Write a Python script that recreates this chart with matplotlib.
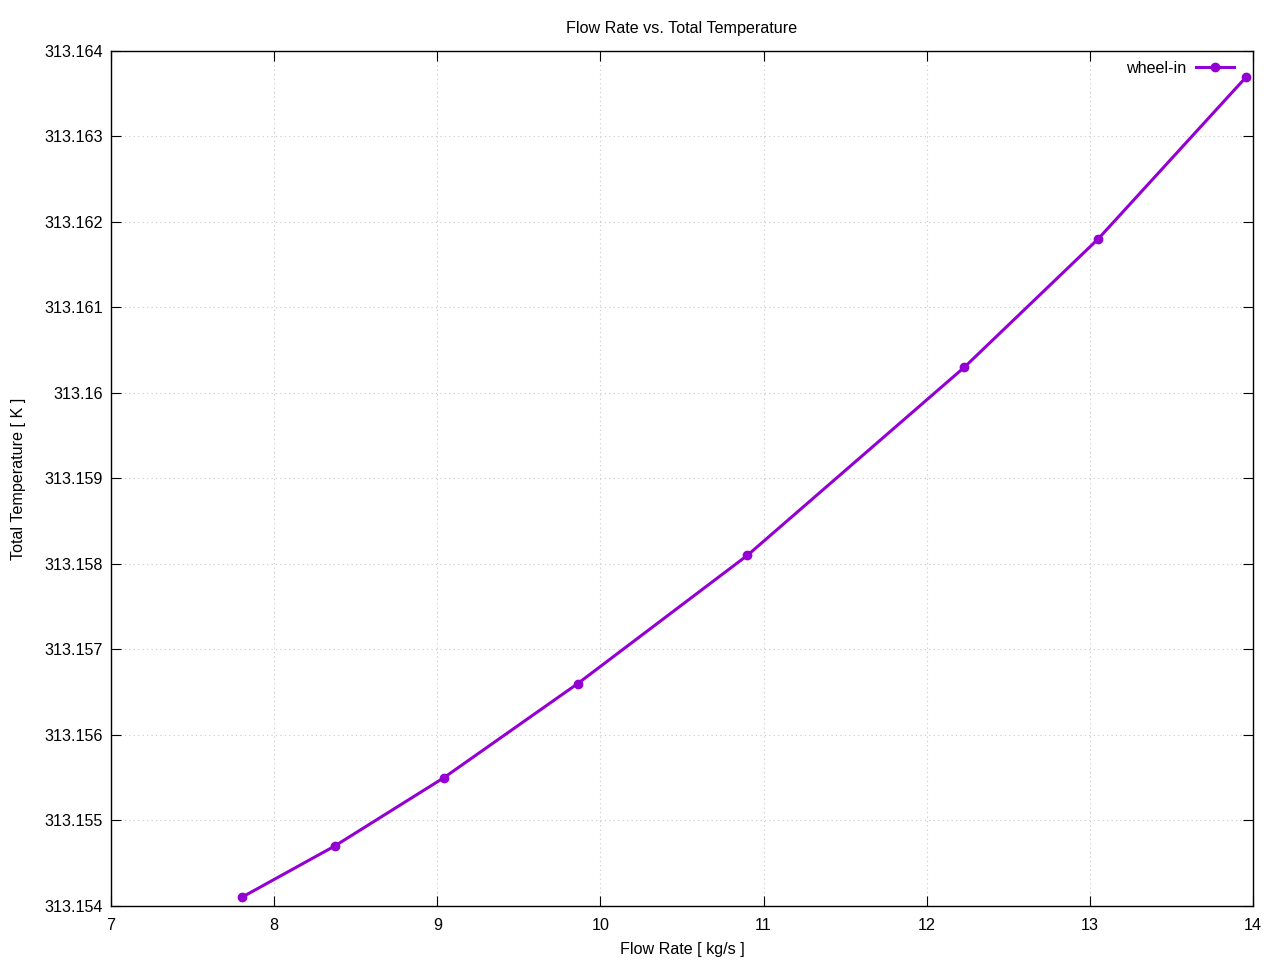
import matplotlib
matplotlib.use("Agg")
import matplotlib.pyplot as plt
from matplotlib.ticker import FuncFormatter, MultipleLocator

plt.rcParams['font.family'] = ['Liberation Sans', 'DejaVu Sans']

flow_rate = [7.80, 8.37, 9.04, 9.86, 10.90, 12.23, 13.05, 13.96]
total_temp = [313.1541, 313.1547, 313.1555, 313.1566, 313.1581, 313.1603, 313.1618, 313.1637]
series_label = "wheel-in"

fs = 11.6
fig = plt.figure(figsize=(12.8, 9.6), dpi=100)
ax = fig.add_axes([111/1280, 54/960, (1253-111)/1280, (906-51)/960])

ax.plot(flow_rate, total_temp, color='#9400D3', lw=2.2, marker='o', ms=6, label=series_label)

ax.set_xlim(7, 14)
ax.set_ylim(313.154, 313.164)
ax.xaxis.set_major_locator(MultipleLocator(1))
ax.yaxis.set_major_locator(MultipleLocator(0.001))
ax.yaxis.set_major_formatter(FuncFormatter(lambda v, p: f"{v:.3f}".rstrip('0').rstrip('.')))
ax.xaxis.set_major_formatter(FuncFormatter(lambda v, p: f"{v:g}"))
ax.tick_params(direction='in', top=True, right=True, length=7, labelsize=fs)
ax.tick_params(axis='y', pad=6)
ax.tick_params(axis='x', pad=9)
ax.grid(True, color='#c8c8c8', linestyle=(0, (1, 3)), lw=0.8)
for s in ax.spines.values():
    s.set_linewidth(1.0)

ax.set_title("Flow Rate vs. Total Temperature", fontsize=fs, pad=13)
ax.set_xlabel("Flow Rate [ kg/s ]", fontsize=fs, labelpad=6)
ax.set_ylabel("Total Temperature [ K ]", fontsize=fs, labelpad=13)

ax.legend(loc='upper right', frameon=False, markerfirst=False, fontsize=fs,
          handlelength=2.4, handletextpad=0.6, borderaxespad=0.2,
          bbox_to_anchor=(0.992, 1.0))

fig.savefig("out.png", dpi=100)
